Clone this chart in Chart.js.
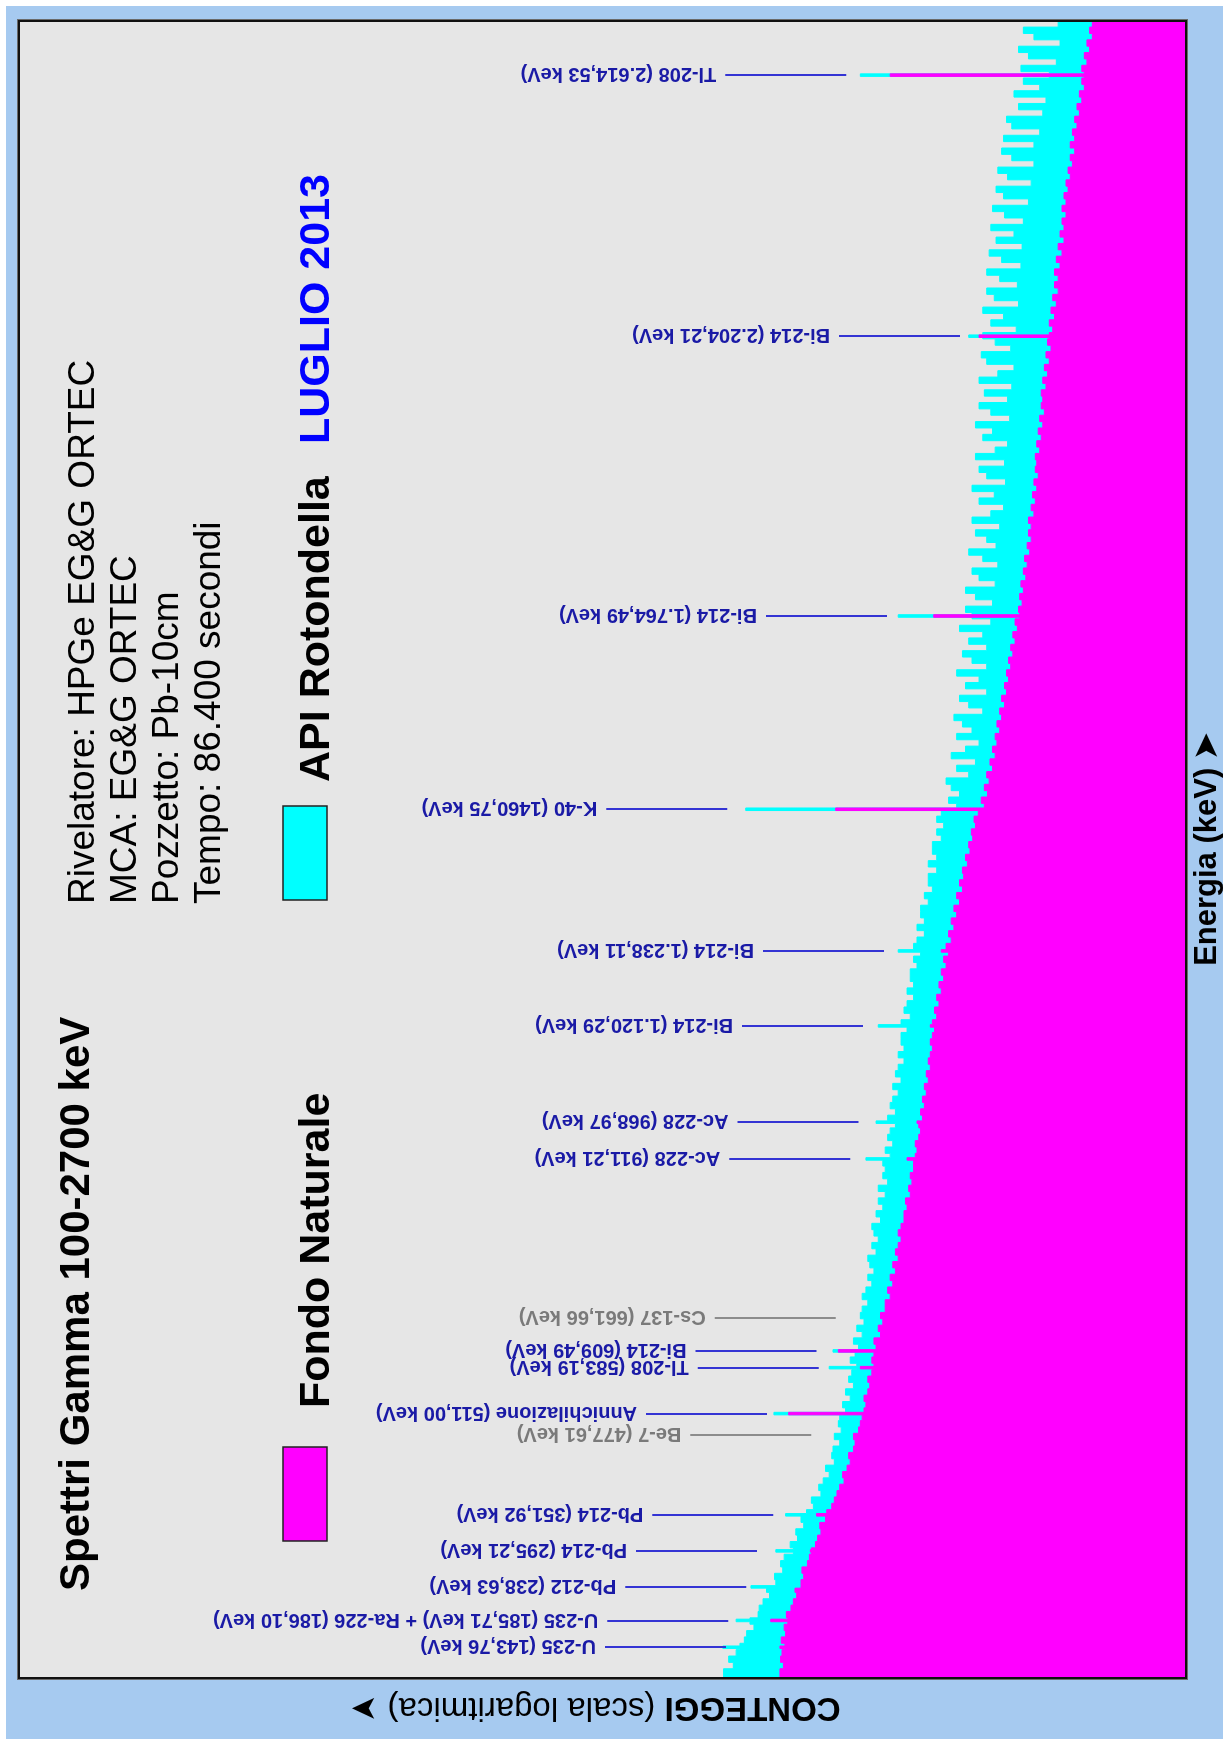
<!DOCTYPE html>
<html>
<head>
<meta charset="utf-8">
<title>Spettri Gamma 100-2700 keV</title>
<script src="https://cdn.jsdelivr.net/npm/chart.js@4.4.0/dist/chart.umd.min.js"></script>
<style>
  html, body { margin: 0; padding: 0; background: #ffffff; overflow: hidden; width: 1223px; height: 1739px; }
  /* il grafico e' disegnato "in orizzontale" e poi ruotato di 90 gradi */
  #ruotato {
    position: absolute; left: 0; top: 0;
    width: 1733px; height: 1217px;
    background: #a6caf0;
    transform-origin: 0 0;
    transform: translate(6px, 1739px) rotate(-90deg);
  }
</style>
</head>
<body>
<div id="ruotato"><canvas id="spettro" width="1733" height="1217"></canvas></div>
<script>
// Asse energia (keV): canali da 10 keV a partire da 100 keV
const E_MIN = 97, E_MAX = 2698;
const E_INIZIO = 100, E_PASSO = 10;

// Conteggi per canale - Fondo Naturale
const fondo = [
  122, 117, 121, 119, 115, 120, 114, 116, 111, 113,   // 100
  107, 104, 100, 102, 95, 92, 94, 88, 86, 84,         // 200
  80, 78, 75, 76, 71, 70, 66, 64, 62, 60,             // 300
  57, 58, 55, 53, 54, 51, 50, 51, 48, 47,             // 400
  46, 45, 44, 45, 43, 42, 43, 41, 40, 41,             // 500
  40, 39, 40, 37, 38, 36, 37, 35, 35, 33,             // 600
  34, 32, 33, 31, 32, 30, 31, 30, 29, 30,             // 700
  29, 28, 28, 27, 27.5, 26, 26.5, 25.5, 26, 25,       // 800
  25, 24.5, 24, 24.5, 23.5, 23, 23.5, 22.5, 23, 22,   // 900
  22.5, 21.5, 22, 21, 21.5, 20.5, 21, 20.5, 20, 20.5, // 1000
  20, 19.5, 20, 19, 19.5, 18.5, 19, 18, 18.5, 17.5,   // 1100
  18, 17, 17.5, 16.5, 17, 16, 16.5, 15.5, 16, 15,     // 1200
  15.5, 14.5, 15, 14, 14.5, 13.8, 14, 13.2, 13.5, 12.8, // 1300
  13, 12.4, 12.6, 12, 12.2, 11.6, 10.8, 11.2, 10.4, 10.8, // 1400
  10.2, 10.5, 9.8, 10.1, 9.5, 9.8, 9.3, 9.5, 9.0, 9.3, // 1500
  8.8, 9.0, 8.5, 8.8, 8.3, 8.5, 8.1, 8.3, 7.9, 8.1,   // 1600
  7.7, 7.9, 7.5, 7.7, 7.3, 7.5, 7.1, 7.2, 6.9, 7.1,   // 1700
  6.8, 7.0, 6.6, 6.8, 6.5, 6.7, 6.3, 6.5, 6.2, 6.4,   // 1800
  6.2, 6.4, 6.0, 6.2, 5.9, 6.1, 5.8, 6.0, 5.7, 5.9,   // 1900
  5.8, 5.9, 5.6, 5.8, 5.5, 5.7, 5.4, 5.6, 5.3, 5.5,   // 2000
  5.4, 5.5, 5.2, 5.4, 5.1, 5.3, 5.0, 5.2, 4.9, 5.1,   // 2100
  5.0, 4.8, 5.0, 4.7, 4.9, 4.6, 4.8, 4.5, 4.7, 4.5,   // 2200
  4.7, 4.4, 4.6, 4.3, 4.5, 4.2, 4.4, 4.2, 4.3, 4.1,   // 2300
  4.3, 4.1, 4.2, 4.0, 4.1, 3.9, 4.0, 3.8, 3.9, 3.7,   // 2400
  3.9, 3.7, 3.8, 3.6, 3.7, 3.5, 3.6, 3.4, 3.5, 3.3,   // 2500
  3.4, 3.3, 3.4, 3.2, 3.3, 3.1, 3.2, 3.0, 3.1, 3.0    // 2600
];

// Conteggi per canale - API Rotondella
const api = [
  238, 212, 224, 205, 196, 186, 181, 166, 174, 158,   // 100
  156, 149, 138, 143, 128, 130, 118, 121, 116, 104,   // 200
  108, 99, 101, 92, 95, 89, 82, 84, 75, 77,           // 300
  73, 68, 71, 64, 66, 65, 60, 64, 59, 61,             // 400
  60, 56, 58, 53, 56, 51, 54, 52, 49, 53,             // 500
  50, 48, 51, 46, 49, 45, 47, 46, 43, 46,             // 600
  44, 41, 43, 40, 42, 43, 39, 41, 38, 40,             // 700
  41, 37, 39, 36, 38, 35, 38, 34, 36, 35,             // 800
  36, 33, 35, 32, 34, 33, 31, 34, 31, 33,             // 900
  32, 30, 32, 29, 31, 30, 28, 30, 28, 29,             // 1000
  29, 27, 29, 26, 28, 27, 25, 27, 25, 26,             // 1100
  26, 24, 25, 23, 25, 24, 22, 24, 22, 23,             // 1200
  23, 21, 22, 20, 21, 21, 19, 21, 19, 20,             // 1300
  20, 18, 19, 17.5, 19, 18, 15, 16.5, 14.5, 16,       // 1400
  17, 13, 15, 12, 16, 13.5, 11.5, 15, 12.5, 14,       // 1500
  15.5, 11, 13, 14.5, 10.5, 13.5, 11.5, 15, 10.5, 12.5, // 1600
  14, 10.5, 13, 11, 14.5, 10, 12.5, 13.5, 9.8, 12,    // 1700
  13.5, 9.5, 11.5, 12.5, 9.2, 11, 13, 9.4, 10.5, 12,  // 1800
  9.0, 12.5, 10, 8.6, 11.5, 9.6, 12.5, 8.4, 10.5, 11.5, // 1900
  8.5, 12, 9.5, 8.2, 11, 9.8, 12, 8.0, 10, 11.5,      // 2000
  8.2, 10.8, 7.8, 11.5, 9.2, 7.6, 10.5, 11.2, 7.9, 9.5, // 2100
  11, 7.4, 10, 8.6, 11, 7.2, 9.6, 10.5, 7.3, 9,       // 2200
  10.5, 7.0, 8.8, 10.2, 6.9, 9.4, 7.6, 10, 6.8, 8.5,  // 2300
  9.8, 6.4, 8.6, 9.4, 6.2, 8.2, 9.2, 6.0, 7.8, 8.8,   // 2400
  6.0, 8.6, 5.6, 7.8, 8.3, 5.4, 7.2, 5.2, 7.6, 5.6,   // 2500
  6.8, 5.0, 7.0, 4.6, 6.4, 7.2, 4.4, 6.0, 6.8, 4.5    // 2600
];

// Picchi (energia keV, conteggi al massimo)
const picchiE     = [143.76, 185.9, 238.63, 295.21, 351.92, 511.0, 583.19, 609.49, 911.21, 968.97, 1120.29, 1238.11, 1460.75, 1764.49, 2204.21, 2614.53];
const picchiApi   = [240, 205, 172, 128, 114, 131, 68, 65, 44, 39, 38, 30, 183, 30, 13, 47];
const picchiFondo = [122, 136, 95, 85, 79, 110, 47, 61, 27, 24, 20.5, 18, 63, 19.7, 11.5, 33];
const PICCO_LARGH = 4;

// Etichette dei radionuclidi
const etichetteE = [143.76, 185.71, 238.63, 295.21, 351.92, 477.61, 511.00, 583.19, 609.49, 661.66, 911.21, 968.97, 1120.29, 1238.11, 1460.75, 1764.49, 2204.21, 2614.53];
const etichetteTesto = [
  'U-235 (143,76 keV)', 'U-235 (185,71 keV) + Ra-226 (186,10 keV)', 'Pb-212 (238,63 keV)',
  'Pb-214 (295,21 keV)', 'Pb-214 (351,92 keV)', 'Be-7 (477,61 keV)', 'Annichilazione (511,00 keV)',
  'Tl-208 (583,19 keV)', 'Bi-214 (609,49 keV)', 'Cs-137 (661,66 keV)', 'Ac-228 (911,21 keV)',
  'Ac-228 (968,97 keV)', 'Bi-214 (1.120,29 keV)', 'Bi-214 (1.238,11 keV)', 'K-40 (1460,75 keV)',
  'Bi-214 (1.764,49 keV)', 'Bi-214 (2.204,21 keV)', 'Tl-208 (2.614,53 keV)'
];
// livello (conteggi) dove finisce il trattino
const etichetteLivello = [231, 225, 182, 160, 132, 84, 142, 77, 79, 63, 53, 48, 45.5, 35.5, 228, 34.3, 14.4, 55.5];
// nuclidi non rilevati (in grigio)
const etichetteAssenti = ['Be-7 (477,61 keV)', 'Cs-137 (661,66 keV)'];

const TITOLO = 'Spettri Gamma 100-2700 keV';
const INFO = ['Rivelatore: HPGe EG&G ORTEC', 'MCA: EG&G ORTEC', 'Pozzetto: Pb-10cm', 'Tempo: 86.400 secondi'];
const PERIODO = 'LUGLIO 2013';

const FONT = '"Liberation Sans", Arial, sans-serif';

// costruisce i punti a gradini, inserendo i picchi stretti
function costruisciSerie(valori, picchi) {
  const fine = E_INIZIO + valori.length * E_PASSO;
  let punti = [{x: E_MIN, y: valori[0]}];
  valori.forEach((v, i) => punti.push({x: E_INIZIO + i * E_PASSO, y: v}));
  punti.push({x: fine, y: valori[valori.length - 1]});
  picchiE.forEach((e, k) => {
    const a = e - PICCO_LARGH / 2, b = e + PICCO_LARGH / 2;
    punti = punti.filter(p => p.x <= a || p.x > b);
    const dopo = valori[Math.floor((b - E_INIZIO) / E_PASSO)];
    punti.push({x: a, y: picchi[k]});
    punti.push({x: b, y: dopo});
  });
  return punti.sort((p, q) => p.x - q.x);
}

// Sfondo grigio e cornice dell'area del grafico
const cornice = {
  id: 'cornice',
  beforeDatasetsDraw(chart) {
    const {ctx, chartArea: a} = chart;
    ctx.save();
    ctx.fillStyle = '#e6e6e6';
    ctx.fillRect(a.left, a.top, a.right - a.left, a.bottom - a.top);
    ctx.restore();
  },
  afterDatasetsDraw(chart) {
    const {ctx, chartArea: a} = chart;
    ctx.save();
    ctx.strokeStyle = '#6a6a6a';
    ctx.lineWidth = 1;
    ctx.strokeRect(a.left - 2.5, a.top - 2.5, a.right - a.left + 5, a.bottom - a.top + 5);
    ctx.strokeStyle = '#111111';
    ctx.lineWidth = 2;
    ctx.strokeRect(a.left - 1, a.top - 1, a.right - a.left + 2, a.bottom - a.top + 2);
    ctx.restore();
  }
};

// Trattini ed etichette dei picchi
const etichette = {
  id: 'etichette',
  afterDatasetsDraw(chart) {
    const {ctx} = chart;
    const sx = chart.scales.x, sy = chart.scales.y;
    ctx.save();
    ctx.font = 'bold 20px ' + FONT;
    ctx.textBaseline = 'middle';
    ctx.textAlign = 'left';
    etichetteE.forEach((e, i) => {
      const grigio = etichetteAssenti.includes(etichetteTesto[i]);
      const x = Math.round(sx.getPixelForValue(e));
      const y0 = sy.getPixelForValue(etichetteLivello[i]);
      const y1 = y0 - 121;
      ctx.strokeStyle = grigio ? '#8c8c8c' : '#3434d4';
      ctx.lineWidth = 2;
      ctx.beginPath();
      ctx.moveTo(x, y0);
      ctx.lineTo(x, y1);
      ctx.stroke();
      ctx.save();
      ctx.translate(x, y1 - 9);
      ctx.rotate(-Math.PI / 2);
      ctx.fillStyle = grigio ? '#7a7a7a' : '#1a1aa6';
      ctx.fillText(etichetteTesto[i], 0, 1);
      ctx.restore();
    });
    ctx.restore();
  }
};

// Titolo, dati strumentali, legenda e titolo dell'asse dei conteggi
const testi = {
  id: 'testi',
  afterDraw(chart) {
    const {ctx, chartArea: a} = chart;
    ctx.save();
    ctx.textBaseline = 'alphabetic';
    ctx.textAlign = 'left';
    ctx.fillStyle = '#000';
    ctx.font = 'bold 42px ' + FONT;
    ctx.fillText(TITOLO, 148, 83);
    ctx.font = '37px ' + FONT;
    INFO.forEach((riga, i) => ctx.fillText(riga, 835, 88 + i * 42));

    // legenda
    const voci = [
      {x: 198, colore: '#ff00ff', testo: chart.data.datasets[0].label, tx: 331},
      {x: 839, colore: '#00ffff', testo: chart.data.datasets[1].label, tx: 957}
    ];
    voci.forEach(v => {
      ctx.fillStyle = v.colore;
      ctx.fillRect(v.x, 277, 94, 44);
      ctx.strokeStyle = '#222';
      ctx.lineWidth = 1.5;
      ctx.strokeRect(v.x, 277, 94, 44);
      ctx.fillStyle = '#000';
      ctx.font = 'bold 43px ' + FONT;
      ctx.fillText(v.testo, v.tx, 323);
    });
    ctx.fillStyle = '#0000ff';
    ctx.fillText(PERIODO, 1295, 323);

    // titolo asse conteggi: parte in grassetto + parte normale
    const parte1 = 'CONTEGGI', parte2 = ' (scala logaritmica) \u27A4';
    ctx.font = 'bold 33px ' + FONT;
    const w1 = ctx.measureText(parte1).width;
    ctx.font = '33px ' + FONT;
    const w2 = ctx.measureText(parte2).width;
    ctx.translate(32, (a.top + a.bottom) / 2 - 7);
    ctx.rotate(-Math.PI / 2);
    ctx.textBaseline = 'middle';
    ctx.fillStyle = '#000';
    ctx.font = 'bold 33px ' + FONT;
    ctx.fillText(parte1, -(w1 + w2) / 2, 0);
    ctx.font = '33px ' + FONT;
    ctx.fillText(parte2, -(w1 + w2) / 2 + w1, 0);
    ctx.restore();
  }
};

new Chart(document.getElementById('spettro'), {
  type: 'line',
  data: {
    datasets: [
      {
        label: 'Fondo Naturale',
        data: costruisciSerie(fondo, picchiFondo),
        backgroundColor: '#ff00ff',
        borderColor: '#ff00ff',
        borderWidth: 1,
        fill: 'start',
        stepped: true,
        pointRadius: 0
      },
      {
        label: 'API Rotondella',
        data: costruisciSerie(api, picchiApi),
        backgroundColor: '#00ffff',
        borderColor: '#00ffff',
        borderWidth: 1,
        fill: 'start',
        stepped: true,
        pointRadius: 0
      }
    ]
  },
  options: {
    responsive: false,
    animation: false,
    devicePixelRatio: 1,
    layout: { padding: { left: 62, right: 16, top: 14, bottom: 0 } },
    plugins: { legend: { display: false }, tooltip: { enabled: false } },
    scales: {
      x: {
        type: 'linear',
        min: E_MIN,
        max: E_MAX,
        grid: { display: false },
        border: { display: false },
        ticks: { display: false },
        title: {
          display: true,
          text: 'Energia (keV) \u27A4',
          color: '#000',
          font: { family: FONT, size: 31, weight: 'bold', lineHeight: 1 },
          padding: 0
        },
        afterFit(scale) { scale.height = 38; }
      },
      y: {
        type: 'logarithmic',
        min: 1,
        max: 1000000,
        display: false
      }
    }
  },
  plugins: [cornice, etichette, testi]
});
</script>
</body>
</html>
